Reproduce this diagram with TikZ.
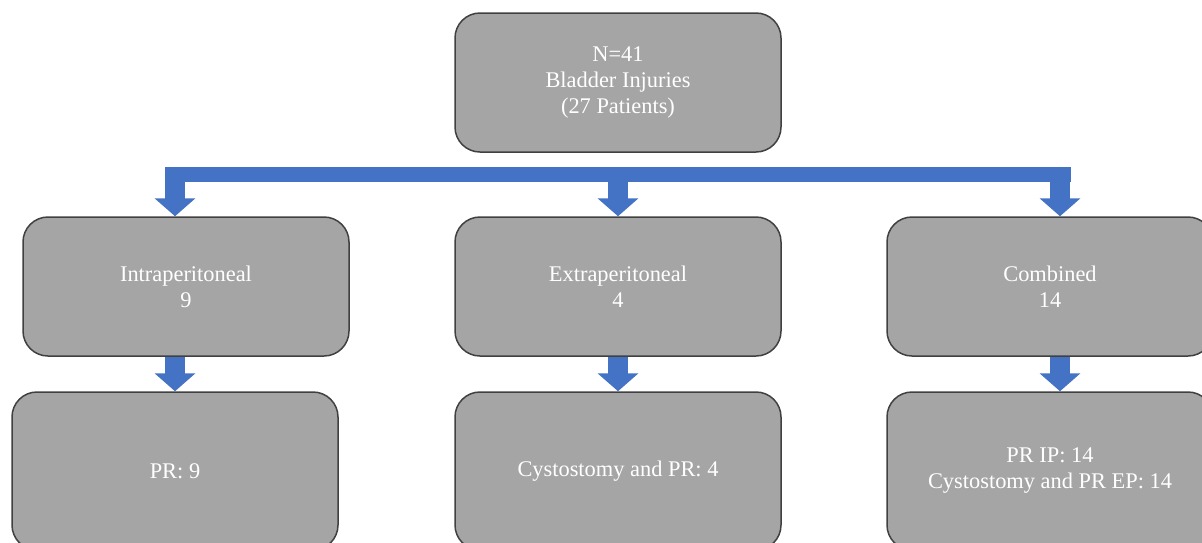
\documentclass[tikz,border=0pt]{standalone}
\usepackage{fontspec}
\setmainfont{Liberation Serif}
\usetikzlibrary{arrows.meta}
\definecolor{boxgray}{HTML}{A5A5A5}
\definecolor{edgegray}{HTML}{404040}
\definecolor{arrowblue}{HTML}{4472C4}
\begin{document}
\begin{tikzpicture}[x=1pt,y=-1pt,
		box/.style={draw=edgegray,line width=1.5pt,fill=boxgray,rounded corners=25pt,minimum width=326pt,minimum height=139pt,text=white,align=center,font=\fontsize{22.4}{26}\selectfont},
		tall/.style={minimum height=158pt},
		arr/.style={arrowblue,line width=20pt,-{Triangle[width=40pt,length=18pt]}}]
	\useasboundingbox (0,0) rectangle (1202,542);
	\node[box] (total) at (618,82.5) {N=41\\Bladder Injuries\\(27 Patients)};
	\node[box] (intra) at (186,286.5) {Intraperitoneal\\9};
	\node[box] (extra) at (618,286.5) {Extraperitoneal\\4};
	\node[box] (comb) at (1050,286.5) {Combined\\14};
	\node[box,tall] (intrapr) at (175,471) {PR: 9};
	\node[box,tall] (extrapr) at (618,471) {Cystostomy and PR: 4};
	\node[box,tall] (combpr) at (1050,471) {PR IP: 14\\Cystostomy and PR EP: 14};
	% split bar
	\coordinate (barl) at (165,174.5);
	\coordinate (barr) at (1071,174.5);
	\coordinate (l) at (175,167);
	\coordinate (m) at (618,167);
	\coordinate (r) at (1060,167);
	\draw[arrowblue,line width=15pt] (barl) -- (barr);
	\draw[arr] (l) -- (l |- intra.north);
	\draw[arr] (m) -- (extra.north);
	\draw[arr] (r) -- (r |- comb.north);
	\draw[arr] (intra.south -| l) -- (intrapr.north);
	\draw[arr] (extra.south) -- (extrapr.north);
	\draw[arr] (comb.south -| r) -- (combpr.north -| r);
\end{tikzpicture}
\end{document}
